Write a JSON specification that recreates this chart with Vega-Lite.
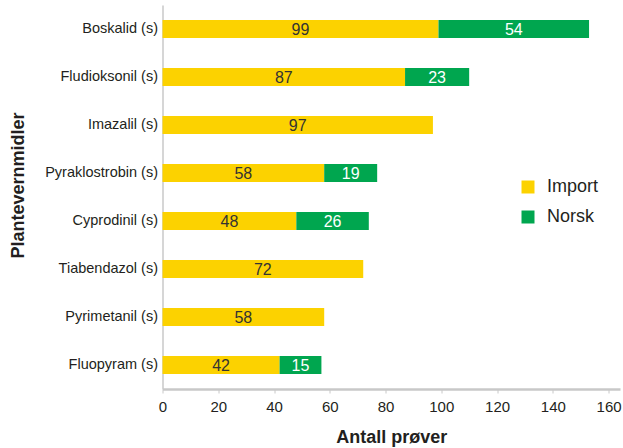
{
  "$schema": "https://vega.github.io/schema/vega-lite/v6.json",
  "autosize": "none",
  "width": 457.5,
  "height": 384,
  "padding": {"left": 162.5, "top": 5, "right": 3, "bottom": 59},
  "background": "white",
  "config": {
    "view": {"stroke": null},
    "font": "Liberation Sans"
  },
  "data": {
    "values": [
      {"stoff": "Boskalid (s)", "opprinnelse": "Import", "antall": 99},
      {"stoff": "Boskalid (s)", "opprinnelse": "Norsk", "antall": 54},
      {"stoff": "Fludioksonil (s)", "opprinnelse": "Import", "antall": 87},
      {"stoff": "Fludioksonil (s)", "opprinnelse": "Norsk", "antall": 23},
      {"stoff": "Imazalil (s)", "opprinnelse": "Import", "antall": 97},
      {"stoff": "Pyraklostrobin (s)", "opprinnelse": "Import", "antall": 58},
      {"stoff": "Pyraklostrobin (s)", "opprinnelse": "Norsk", "antall": 19},
      {"stoff": "Cyprodinil (s)", "opprinnelse": "Import", "antall": 48},
      {"stoff": "Cyprodinil (s)", "opprinnelse": "Norsk", "antall": 26},
      {"stoff": "Tiabendazol (s)", "opprinnelse": "Import", "antall": 72},
      {"stoff": "Pyrimetanil (s)", "opprinnelse": "Import", "antall": 58},
      {"stoff": "Fluopyram (s)", "opprinnelse": "Import", "antall": 42},
      {"stoff": "Fluopyram (s)", "opprinnelse": "Norsk", "antall": 15}
    ]
  },
  "transform": [
    {"stack": "antall", "groupby": ["stoff"], "sort": [{"field": "opprinnelse", "order": "ascending"}], "as": ["x0", "x1"]},
    {"calculate": "(datum.x0 + datum.x1) / 2", "as": "xmid"}
  ],
  "encoding": {
    "y": {
      "field": "stoff",
      "type": "nominal",
      "sort": ["Boskalid (s)", "Fludioksonil (s)", "Imazalil (s)", "Pyraklostrobin (s)", "Cyprodinil (s)", "Tiabendazol (s)", "Pyrimetanil (s)", "Fluopyram (s)"],
      "scale": {"paddingInner": 0.625, "paddingOuter": 0.3125},
      "axis": {
        "title": "Plantevernmidler",
        "titleFont": "Liberation Sans",
        "titleFontSize": 18,
        "titleFontWeight": "bold",
        "titleColor": "#231f20",
        "titleX": -144.5,
        "titleY": 180,
        "titleAngle": -90,
        "titleAlign": "center",
        "titleBaseline": "middle",
        "ticks": false,
        "labelFontSize": 14.5,
        "labelColor": "#231f20",
        "labelPadding": 5,
        "domainColor": "#c8c8c8",
        "domainWidth": 1.5
      }
    }
  },
  "layer": [
    {
      "mark": {"type": "bar"},
      "encoding": {
        "x": {
          "field": "x0",
          "type": "quantitative",
          "scale": {"domain": [0, 164.1], "nice": false, "zero": true},
          "axis": {
            "title": "Antall prøver",
            "titleFontSize": 18,
            "titleFontWeight": "bold",
            "titleColor": "#231f20",
            "titlePadding": 14,
            "values": [0, 20, 40, 60, 80, 100, 120, 140, 160],
            "grid": false,
            "labelFlush": false,
            "labelFontSize": 15,
            "labelColor": "#231f20",
            "labelPadding": 6,
            "tickColor": "#c8c8c8",
            "tickSize": 4,
            "domainColor": "#c8c8c8",
            "domainWidth": 2.5
          }
        },
        "x2": {"field": "x1"},
        "color": {
          "field": "opprinnelse",
          "type": "nominal",
          "scale": {"domain": ["Import", "Norsk"], "range": ["#fcd200", "#00a64f"]},
          "legend": {
            "title": null,
            "orient": "none",
            "legendX": 356.5,
            "legendY": 173,
            "symbolType": "square",
            "symbolSize": 169,
            "symbolStrokeWidth": 0,
            "labelFontSize": 18,
            "labelColor": "#231f20",
            "labelOffset": 10,
            "rowPadding": 12,
            "padding": 0
          }
        }
      }
    },
    {
      "mark": {"type": "text", "fontSize": 16, "baseline": "middle", "dy": 1},
      "encoding": {
        "x": {"field": "xmid", "type": "quantitative"},
        "text": {"field": "antall", "type": "quantitative"},
        "color": {
          "field": "opprinnelse",
          "type": "nominal",
          "scale": {"domain": ["Import", "Norsk"], "range": ["#333333", "#ffffff"]},
          "legend": null
        }
      }
    }
  ],
  "resolve": {"scale": {"color": "independent"}}
}
